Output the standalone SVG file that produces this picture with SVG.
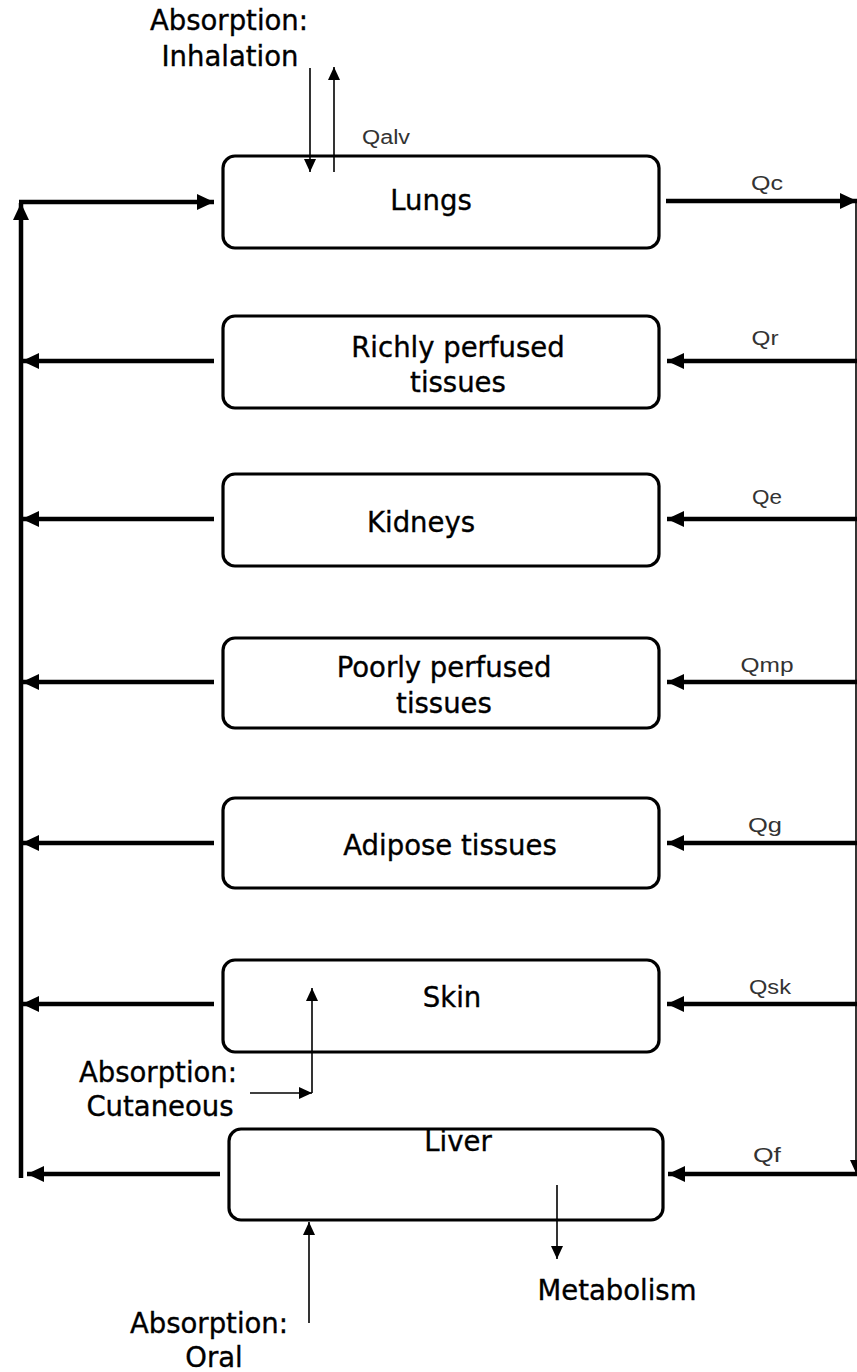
<svg xmlns="http://www.w3.org/2000/svg" width="857" height="1372" viewBox="0 0 857 1372">
<defs>
<marker id="big" markerUnits="userSpaceOnUse" markerWidth="18" markerHeight="16" refX="17" refY="8" orient="auto"><path d="M0,0 L17,8 L0,16 z" fill="#000"/></marker>
<marker id="small" markerUnits="userSpaceOnUse" markerWidth="13" markerHeight="12" refX="13" refY="6" orient="auto"><path d="M0,0 L13,6 L0,12 z" fill="#000"/></marker>
</defs>
<style>
.box{fill:#fff;stroke:#000;stroke-width:3.2}
.lbl{font-family:"DejaVu Sans",Verdana,sans-serif;font-size:27.5px;fill:#000;stroke:#000;stroke-width:0.35;text-anchor:middle}
.q{font-family:"Liberation Sans",Arial,sans-serif;font-size:20px;fill:#333;text-anchor:middle}
.thick{stroke:#000;stroke-width:4.5;fill:none}
.thin{stroke:#000;stroke-width:1.6;fill:none}
</style>
<rect width="857" height="1372" fill="#fff"/>
<g id="lungs"><rect class="box" x="223" y="156" width="436" height="92" rx="12"/><text class="lbl" x="431" y="210">Lungs</text></g>
<g id="richly"><rect class="box" x="223" y="316" width="436" height="92" rx="12"/><text class="lbl" x="458" y="357">Richly perfused</text><text class="lbl" x="458" y="392">tissues</text></g>
<g id="kidneys"><rect class="box" x="223" y="474" width="436" height="92" rx="12"/><text class="lbl" x="421" y="532">Kidneys</text></g>
<g id="poorly"><rect class="box" x="223" y="638" width="436" height="90" rx="12"/><text class="lbl" x="444" y="677">Poorly perfused</text><text class="lbl" x="444" y="713">tissues</text></g>
<g id="adipose"><rect class="box" x="223" y="798" width="436" height="90" rx="12"/><text class="lbl" x="450" y="855">Adipose tissues</text></g>
<g id="skin"><rect class="box" x="223" y="960" width="436" height="92" rx="12"/><text class="lbl" x="452" y="1007">Skin</text></g>
<g id="liver"><rect class="box" x="229" y="1129" width="434" height="91" rx="12"/><text class="lbl" x="458" y="1151">Liver</text></g>
<g id="connectors">
<line class="thick" x1="21" y1="1178" x2="21" y2="203" marker-end="url(#big)"/>
<line class="thick" x1="19" y1="202" x2="214" y2="202" marker-end="url(#big)"/>
<line class="thick" x1="666" y1="201" x2="857" y2="201" marker-end="url(#big)"/>
<line class="thin" x1="856" y1="201" x2="856" y2="1173" marker-end="url(#small)"/>
<line class="thick" x1="857" y1="361" x2="667" y2="361" marker-end="url(#big)"/>
<line class="thick" x1="857" y1="519" x2="667" y2="519" marker-end="url(#big)"/>
<line class="thick" x1="857" y1="682" x2="667" y2="682" marker-end="url(#big)"/>
<line class="thick" x1="857" y1="843" x2="667" y2="843" marker-end="url(#big)"/>
<line class="thick" x1="857" y1="1004" x2="667" y2="1004" marker-end="url(#big)"/>
<line class="thick" x1="857" y1="1174" x2="668" y2="1174" marker-end="url(#big)"/>
<line class="thick" x1="214" y1="361" x2="22" y2="361" marker-end="url(#big)"/>
<line class="thick" x1="214" y1="519" x2="22" y2="519" marker-end="url(#big)"/>
<line class="thick" x1="214" y1="682" x2="22" y2="682" marker-end="url(#big)"/>
<line class="thick" x1="214" y1="843" x2="22" y2="843" marker-end="url(#big)"/>
<line class="thick" x1="214" y1="1004" x2="22" y2="1004" marker-end="url(#big)"/>
<line class="thick" x1="220" y1="1174" x2="27" y2="1174" marker-end="url(#big)"/>
<line class="thin" x1="310" y1="68" x2="310" y2="172" marker-end="url(#small)"/>
<line class="thin" x1="334" y1="172" x2="334" y2="67" marker-end="url(#small)"/>
<line class="thin" x1="250" y1="1093" x2="312" y2="1093" marker-end="url(#small)"/>
<line class="thin" x1="312" y1="1093" x2="312" y2="988" marker-end="url(#small)"/>
<line class="thin" x1="309" y1="1323" x2="309" y2="1222" marker-end="url(#small)"/>
<line class="thin" x1="557" y1="1185" x2="557" y2="1259" marker-end="url(#small)"/>
</g>
<g id="labels">
<text class="lbl" x="229" y="30">Absorption:</text>
<text class="lbl" x="230" y="66">Inhalation</text>
<text class="lbl" x="158" y="1082">Absorption:</text>
<text class="lbl" x="160" y="1116">Cutaneous</text>
<text class="lbl" x="209" y="1333">Absorption:</text>
<text class="lbl" x="214" y="1367">Oral</text>
<text class="lbl" x="617" y="1300">Metabolism</text>
<text class="q" x="386" y="144" textLength="48" lengthAdjust="spacingAndGlyphs">Qalv</text>
<text class="q" x="767" y="190" textLength="32" lengthAdjust="spacingAndGlyphs">Qc</text>
<text class="q" x="765" y="345" textLength="27" lengthAdjust="spacingAndGlyphs">Qr</text>
<text class="q" x="767" y="504" textLength="30" lengthAdjust="spacingAndGlyphs">Qe</text>
<text class="q" x="767" y="672" textLength="53" lengthAdjust="spacingAndGlyphs">Qmp</text>
<text class="q" x="765" y="832" textLength="34" lengthAdjust="spacingAndGlyphs">Qg</text>
<text class="q" x="770" y="994" textLength="42" lengthAdjust="spacingAndGlyphs">Qsk</text>
<text class="q" x="767" y="1162" textLength="28" lengthAdjust="spacingAndGlyphs">Qf</text>
</g>
</svg>
